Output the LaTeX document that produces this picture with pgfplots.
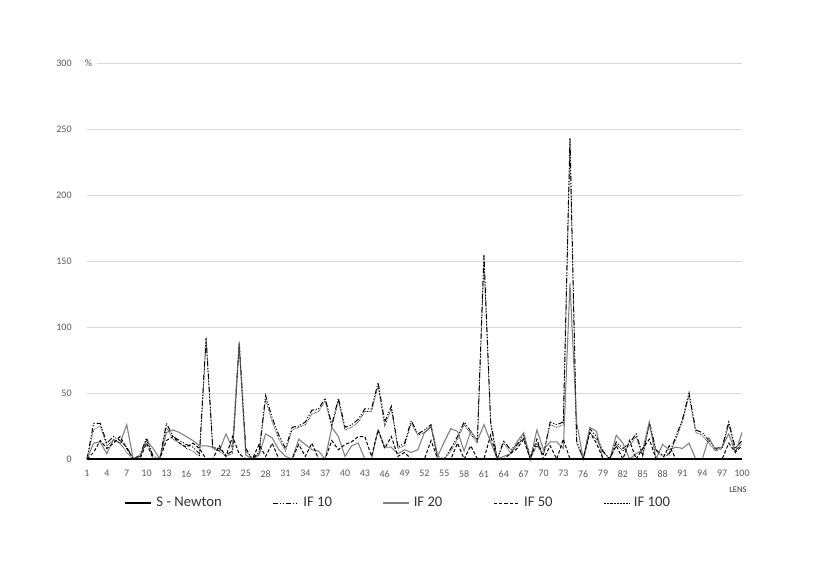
\documentclass[border=0pt]{standalone}
\usepackage{pgfplots}
\pgfplotsset{compat=1.18}
\usepackage{pgfplotstable}
\usepackage{fontspec}
\setmainfont{Carlito}
\definecolor{tick}{HTML}{595959}
\definecolor{gridc}{HTML}{D9D9D9}
\definecolor{grayline}{HTML}{808080}
\pgfplotstableread{
x s a b c d
1 0 0 0 0 0
2 0 27 12 5 22
3 0 27 13 14 25
4 0 12 4 8 10
5 0 17 15 12 14
6 0 14 12 17 12
7 0 9 26 8 5
8 0 0 0 0 0
9 0 3 2 0 2
10 0 16 14 12 15
11 0 2 8 0 0
12 0 0 0 0 0
13 0 27 20 14 24
14 0 17 22 17 15
15 0 14 20 12 12
16 0 11 17 9 8
17 0 9 14 12 6
18 0 4 10 8 2
19 0 92 10 0 90
20 0 9 9 0 8
21 0 8 6 10 6
22 0 3 19 2 2
23 0 6 8 17 4
24 0 89 87 4 86
25 0 8 3 0 6
26 0 0 0 0 0
27 0 5 3 11 4
28 0 48 19 2 45
29 0 31 16 12 28
30 0 18 7 0 15
31 0 8 2 0 6
32 0 24 0 0 22
33 0 25 15 11 24
34 0 28 11 2 26
35 0 37 7 12 34
36 0 38 6 0 36
37 0 46 0 0 44
38 0 26 24 14 24
39 0 46 17 7 44
40 0 24 2 11 22
41 0 26 10 13 24
42 0 30 12 17 28
43 0 38 0 17 36
44 0 38 0 2 36
45 0 58 22 22 55
46 0 28 9 8 25
47 0 40 9 17 38
48 0 9 4 2 8
49 0 12 7 5 10
50 0 29 5 0 27
51 0 19 7 0 18
52 0 22 20 0 20
53 0 26 25 14 24
54 0 2 2 0 0
55 0 0 13 0 0
56 0 8 23 0 6
57 0 17 21 12 15
58 0 28 6 0 26
59 0 21 21 10 19
60 0 14 14 0 12
61 0 155 26 0 150
62 0 29 13 18 27
63 0 0 0 0 0
64 0 14 2 0 12
65 0 7 4 4 5
66 0 11 13 8 10
67 0 18 20 15 16
68 0 2 0 0 0
69 0 12 22 15 10
70 0 4 7 0 3
71 0 28 13 10 26
72 0 26 13 0 24
73 0 28 8 15 26
74 0 243 133 0 240
75 0 14 28 0 12
76 0 0 0 0 0
77 0 23 24 20 20
78 0 17 21 12 15
79 0 6 0 0 5
80 0 0 0 0 0
81 0 13 18 10 11
82 0 8 12 0 6
83 0 12 0 14 10
84 0 19 4 0 17
85 0 3 7 8 2
86 0 28 28 15 26
87 0 7 0 0 6
88 0 3 11 0 2
89 0 4 7 10 3
90 0 17 9 0 15
91 0 30 8 0 28
92 0 50 12 0 48
93 0 22 0 0 20
94 0 20 0 0 18
95 0 14 16 0 12
96 0 8 7 0 6
97 0 9 9 0 8
98 0 28 19 12 26
99 0 8 5 5 6
100 0 14 20 10 12
}\datatable
\begin{document}
\begin{tikzpicture}
\useasboundingbox (-65.25pt,-89.25pt) rectangle (547.5pt,344.25pt);
\begin{axis}[
  at={(0,0)}, anchor=south west,
  scale only axis, width=491.25pt, height=297pt,
  xmin=1, xmax=100, ymin=0, ymax=300,
  xtick={1,4,...,100}, ytick={0,50,...,250,300},
  ymajorgrids, grid style={draw=gridc, line width=0.7pt},
  axis x line*=bottom, axis y line*=left,
  y axis line style={draw=none},
  x axis line style={draw=gridc},
  major tick length=0pt,
  /pgf/number format/assume math mode=true,
  ticklabel style={font=\fontsize{7.5}{9}\selectfont, text=tick},
  yticklabel style={xshift=-8pt},
  xticklabel style={yshift=-5pt},
  clip=false,
  legend columns=5,
  legend style={at={(0.4756,0)}, anchor=center, yshift=-33pt, draw=none,
    font=\fontsize{11}{13}\selectfont, text=black!80,
    /tikz/every even column/.append style={column sep=36pt},
    /tikz/every odd column/.append style={column sep=1pt}},
  legend cell align=left,
  legend image code/.code={\draw[#1] (0pt,0pt) -- (19.5pt,0pt);},
]
\addplot[forget plot, black, line width=0.75pt, dash pattern=on 4pt off 1.5pt on 0.8pt off 1.2pt on 0.8pt off 1.5pt] table[x=x,y=a] {\datatable};
\addplot[forget plot, grayline, line width=0.8pt] table[x=x,y=b] {\datatable};
\addplot[forget plot, black, line width=0.75pt, dash pattern=on 2.5pt off 1.5pt] table[x=x,y=c] {\datatable};
\addplot[forget plot, black, line width=0.45pt, dash pattern=on 0.5pt off 0.6pt] table[x=x,y=d] {\datatable};
\addplot[forget plot, black, line width=1.6pt] table[x=x,y=s] {\datatable};
\addlegendimage{black, line width=1.6pt}
\addlegendentry{S - Newton}
\addlegendimage{black, line width=0.75pt, dash pattern=on 4pt off 1.5pt on 0.8pt off 1.2pt on 0.8pt off 1.5pt}
\addlegendentry{IF 10}
\addlegendimage{grayline, line width=0.8pt}
\addlegendentry{IF 20}
\addlegendimage{black, line width=0.75pt, dash pattern=on 2.5pt off 1.5pt}
\addlegendentry{IF 50}
\addlegendimage{black, line width=0.45pt, dash pattern=on 0.5pt off 0.6pt}
\addlegendentry{IF 100}
\node[font=\fontsize{7.5}{9}\selectfont, text=tick, fill=white, inner xsep=4pt, inner ysep=1pt] at (rel axis cs:0,1) [xshift=1pt] {\%};
\node[font=\fontsize{6.5}{8}\selectfont, text=black!80] at (rel axis cs:1,0) [xshift=-3pt, yshift=-23pt] {LENS};
\end{axis}
\end{tikzpicture}
\end{document}
